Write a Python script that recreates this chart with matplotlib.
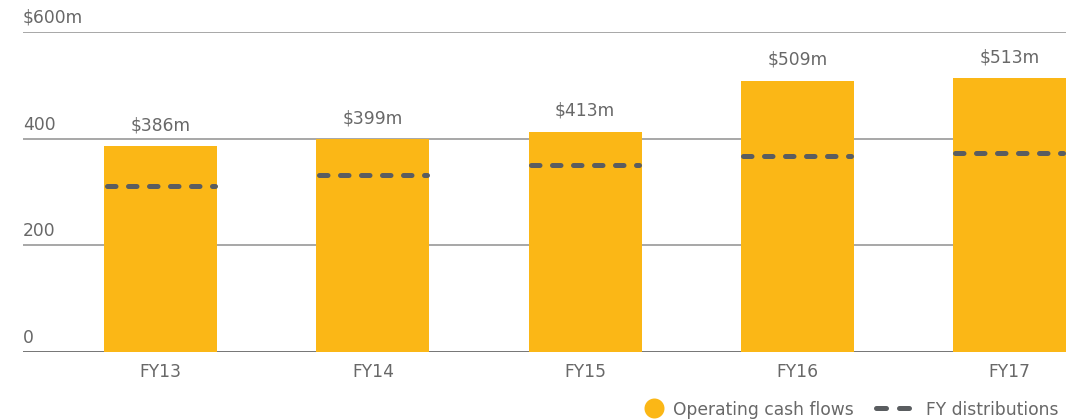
import matplotlib
matplotlib.use("Agg")
import matplotlib.pyplot as plt
from matplotlib.lines import Line2D

categories = ["FY13", "FY14", "FY15", "FY16", "FY17"]
operating_cash_flows = [386, 399, 413, 509, 513]
fy_distributions = [311, 332, 351, 367, 373]
value_labels = ["$386m", "$399m", "$413m", "$509m", "$513m"]
y_ticks = [0, 200, 400, 600]
y_tick_labels = ["0", "200", "400", "$600m"]
legend_labels = ["Operating cash flows", "FY distributions"]

plt.rcParams['font.family'] = ['DejaVu Sans']
BAR = "#FBB716"
DASH = "#5a5d60"
TXT = "#686868"
FS = 12.3

W, H = 1092, 419
fig = plt.figure(figsize=(W/100, H/100), dpi=100)
ax = fig.add_axes([23/W, 1-352/H, (1066-23)/W, (352-32)/H])

x = list(range(len(categories)))
w = 0.533
ax.bar(x, operating_cash_flows, width=w, color=BAR, zorder=3)
for xi, d in zip(x, fy_distributions):
    ax.plot([xi - w/2 + 0.012, xi + w/2 - 0.012], [d, d], color=DASH, lw=3.6,
            dashes=(1.7, 2.5), dash_capstyle='round', zorder=4)
for xi, v, lab in zip(x, operating_cash_flows, value_labels):
    ax.text(xi, v + 30, lab, ha='center', va='baseline', fontsize=FS, color=TXT)

ax.set_xlim(-0.649, 4.2665)
ax.set_ylim(0, 600)
for t, lab in zip(y_ticks, y_tick_labels):
    ax.axhline(t, color="#a0a0a0" if t else "#6a6a6a", lw=1.3, zorder=1)
    ax.text(-0.649, t + 17, lab, ha='left', va='baseline', fontsize=FS, color=TXT)
ax.set_yticks([])
ax.set_xticks(x)
ax.set_xticklabels(categories, fontsize=FS, color=TXT)
ax.tick_params(axis='x', length=0, pad=8)
for s in ax.spines.values():
    s.set_visible(False)

# legend (figure coordinates, pixels)
ly = 1 - 408/H
fig.add_artist(Line2D([654/W], [ly], marker='o', markersize=14.4, color=BAR,
                      markeredgewidth=0, transform=fig.transFigure))
fig.text(673/W, ly, legend_labels[0], ha='left', va='center_baseline', fontsize=FS, color=TXT)
fig.add_artist(Line2D([875.5/W, 908.5/W], [ly, ly], color=DASH, lw=3.6,
                      dashes=(2.0, 2.6), dash_capstyle='round', transform=fig.transFigure))
fig.text(992/W, ly, legend_labels[1], ha='center', va='center_baseline', fontsize=FS, color=TXT)

fig.savefig("out.png", dpi=100, facecolor="white")
